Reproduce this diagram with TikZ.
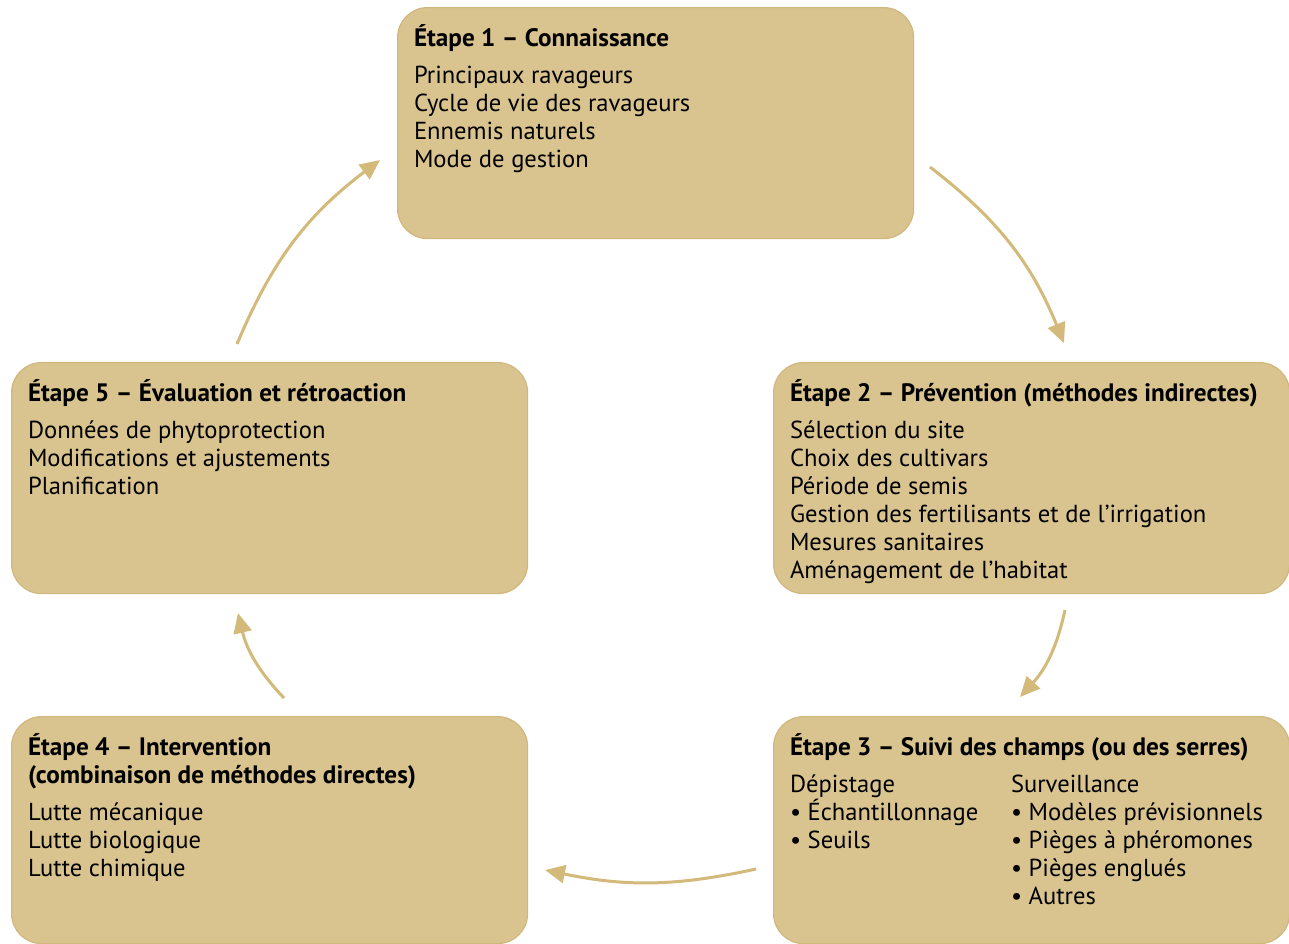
\documentclass[tikz,border=0pt]{standalone}
\usepackage{fontspec}
\setmainfont{PT Sans}
\usetikzlibrary{arrows.meta,positioning}
\definecolor{sable}{HTML}{D9C48F}
\definecolor{sablefonce}{HTML}{D0B77E}
\definecolor{ocre}{HTML}{D3B97A}

\begin{document}
\begin{tikzpicture}[x=0.5pt,y=-0.5pt,
    etape/.style={draw=sablefonce, fill=sable, line width=0.6pt, rounded corners=15pt,
      minimum width=258pt, minimum height=115.5pt, anchor=north west, inner sep=0pt},
    titre/.style={anchor=base west, inner sep=0pt, outer sep=0pt, text height=10pt, text depth=4pt,
      font=\fontsize{12.6}{14}\selectfont\bfseries},
    ligne/.style={inner sep=0pt, outer sep=0pt, text height=10pt, text depth=4pt,
      font=\fontsize{12.3}{14}\selectfont},
    fleche/.style={draw=ocre, line width=1.5pt, -{Triangle[length=10pt,width=9pt]}}]
    \useasboundingbox (0,0) rectangle (1289,943);

    %etape 1
    \node[etape] (etape1) at (397,7) {};
    \node[titre] (titre1) at ([shift={(17,39)}]etape1.north west) {Étape 1 -- Connaissance};
    \node[ligne] (l1a) [below right=4.5pt and 0pt of titre1.south west] {Principaux ravageurs};
    \node[ligne] (l1b) [below right=0pt and 0pt of l1a.south west] {Cycle de vie des ravageurs};
    \node[ligne] (l1c) [below right=0pt and 0pt of l1b.south west] {Ennemis naturels};
    \node[ligne] (l1d) [below right=0pt and 0pt of l1c.south west] {Mode de gestion};

    %etape 2
    \node[etape] (etape2) at (773,362) {};
    \node[titre] (titre2) at ([shift={(17,39)}]etape2.north west) {Étape 2 -- Prévention (méthodes indirectes)};
    \node[ligne] (l2a) [below right=4.5pt and 0pt of titre2.south west] {Sélection du site};
    \node[ligne] (l2b) [below right=0pt and 0pt of l2a.south west] {Choix des cultivars};
    \node[ligne] (l2c) [below right=0pt and 0pt of l2b.south west] {Période de semis};
    \node[ligne] (l2d) [below right=0pt and 0pt of l2c.south west] {Gestion des fertilisants et de l’irrigation};
    \node[ligne] (l2e) [below right=0pt and 0pt of l2d.south west] {Mesures sanitaires};
    \node[ligne] (l2f) [below right=0pt and 0pt of l2e.south west] {Aménagement de l’habitat};

    %etape 3
    \node[etape, minimum height=113.5pt] (etape3) at (773,716) {};
    \node[titre] (titre3) at ([shift={(17,39)}]etape3.north west) {Étape 3 -- Suivi des champs (ou des serres)};
    \node[ligne] (l3a) [below right=4.5pt and 0pt of titre3.south west] {Dépistage};
    \node[ligne] (l3b) [below right=0pt and 0pt of l3a.south west] {• Échantillonnage};
    \node[ligne] (l3c) [below right=0pt and 0pt of l3b.south west] {• Seuils};
    \node[ligne, anchor=base west] (l3d) at ([shift={(238,76)}]etape3.north west) {Surveillance};
    \node[ligne] (l3e) [below right=0pt and 0pt of l3d.south west] {• Modèles prévisionnels};
    \node[ligne] (l3f) [below right=0pt and 0pt of l3e.south west] {• Pièges à phéromones};
    \node[ligne] (l3g) [below right=0pt and 0pt of l3f.south west] {• Pièges englués};
    \node[ligne] (l3h) [below right=0pt and 0pt of l3g.south west] {• Autres};

    %etape 4
    \node[etape, minimum height=113.5pt] (etape4) at (11,716) {};
    \node[titre] (titre4a) at ([shift={(17,39)}]etape4.north west) {Étape 4 -- Intervention};
    \node[titre, anchor=north west] (titre4b) [below right=0pt and 0pt of titre4a.south west] {(combinaison de méthodes directes)};
    \node[ligne] (l4a) [below right=4.5pt and 0pt of titre4b.south west] {Lutte mécanique};
    \node[ligne] (l4b) [below right=0pt and 0pt of l4a.south west] {Lutte biologique};
    \node[ligne] (l4c) [below right=0pt and 0pt of l4b.south west] {Lutte chimique};

    %etape 5
    \node[etape] (etape5) at (11,362) {};
    \node[titre] (titre5) at ([shift={(17,39)}]etape5.north west) {Étape 5 -- Évaluation et rétroaction};
    \node[ligne] (l5a) [below right=4.5pt and 0pt of titre5.south west] {Données de phytoprotection};
    \node[ligne] (l5b) [below right=0pt and 0pt of l5a.south west] {Modifications et ajustements};
    \node[ligne] (l5c) [below right=0pt and 0pt of l5b.south west] {Planification};

    %fleches
    \coordinate (f1a) at (930,167);
    \coordinate (f1b) at (1064,343);
    \coordinate (f2a) at (1065,610);
    \coordinate (f2b) at (1020,697);
    \coordinate (f3a) at (756,869);
    \coordinate (f3b) at (545,870);
    \coordinate (f4a) at (284,698);
    \coordinate (f4b) at (238,613);
    \coordinate (f5a) at (237,344);
    \coordinate (f5b) at (380,160);
    \draw[fleche] (f1a) to[bend left=15] (f1b);
    \draw[fleche] (f2a) to[bend left=15] (f2b);
    \draw[fleche] (f3a) to[bend left=12] (f3b);
    \draw[fleche] (f4a) to[bend left=15] (f4b);
    \draw[fleche] (f5a) to[bend left=15] (f5b);
\end{tikzpicture}
\end{document}
